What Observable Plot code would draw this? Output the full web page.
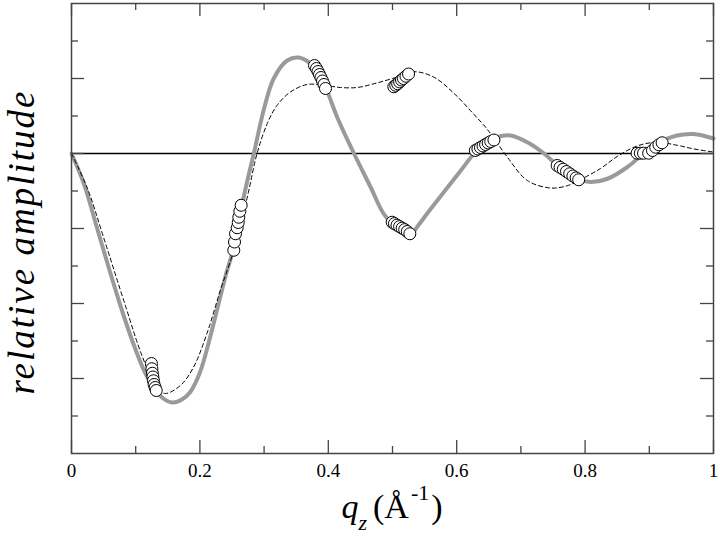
<!DOCTYPE html>
<html><head><meta charset="utf-8">
<script src="https://cdn.jsdelivr.net/npm/d3@7"></script>
<script src="https://cdn.jsdelivr.net/npm/@observablehq/plot@0.6"></script>
<style>body{margin:0;background:#fff}</style>
</head><body><div id="chart"></div>
<script>
// solid gray curve
const grayQ = [0,0.02,0.04,0.06,0.08,0.1,0.115,0.128,0.142,0.157,0.172,0.185,0.2,0.215,0.23,0.242,0.253,0.264,0.274,0.284,0.3,0.315,0.336,0.354,0.372,0.385,0.396,0.414,0.44,0.466,0.486,0.505,0.518,0.528,0.54,0.554,0.585,0.607,0.627,0.645,0.668,0.684,0.71,0.736,0.762,0.788,0.808,0.834,0.866,0.891,0.912,0.943,0.969,1.0];
const grayV = [0,-0.42,-1.0,-1.58,-2.13,-2.62,-2.93,-3.12,-3.26,-3.32,-3.28,-3.18,-2.92,-2.48,-1.97,-1.57,-1.25,-0.75,-0.36,0,0.6,1.0,1.24,1.28,1.2,1.06,0.88,0.48,0,-0.45,-0.8,-0.99,-1.06,-1.085,-0.96,-0.8,-0.46,-0.22,0,0.15,0.23,0.24,0.15,0,-0.2,-0.34,-0.38,-0.34,-0.18,0,0.13,0.24,0.26,0.2];
// dashed black curve
const dashQ = [0,0.025,0.05,0.084,0.11,0.133,0.146,0.17,0.19,0.211,0.232,0.253,0.264,0.276,0.289,0.305,0.32,0.341,0.367,0.393,0.419,0.445,0.471,0.5,0.533,0.564,0.596,0.627,0.642,0.655,0.679,0.71,0.746,0.772,0.79,0.824,0.85,0.881,0.912,0.943,0.97,1.0];
const dashV = [0,-0.47,-1.12,-2.03,-2.7,-3.13,-3.2,-3.09,-2.85,-2.4,-1.82,-1.29,-0.93,-0.5,0,0.4,0.64,0.82,0.92,0.91,0.88,0.88,0.93,1.0,1.09,1.02,0.8,0.52,0.38,0.24,-0.05,-0.36,-0.46,-0.43,-0.36,-0.2,-0.04,0.1,0.15,0.11,0.06,0.02];
// open circles
const dotQ = [
  0.1245,0.1252,0.126,0.1268,0.1277,0.1287,0.1303,0.132,
  0.2528,0.2539,0.2555,0.2581,0.2597,0.2606,0.2622,0.2643,
  0.3785,0.3816,0.384,0.3863,0.3886,0.391,0.3933,0.3956,
  0.502,0.505,0.508,0.511,0.514,0.517,0.521,0.525,
  0.4995,0.503,0.507,0.511,0.515,0.519,0.523,0.527,
  0.629,0.633,0.637,0.641,0.645,0.649,0.653,0.658,
  0.7565,0.761,0.766,0.771,0.776,0.781,0.786,0.790,
  0.881,0.886,0.891,0.899,0.905,0.910,0.915,0.920];
const dotV = [
  -2.80,-2.87,-2.93,-2.98,-3.03,-3.08,-3.12,-3.16,
  -1.29,-1.18,-1.07,-0.99,-0.92,-0.85,-0.77,-0.69,
  1.173,1.133,1.093,1.053,1.013,0.967,0.92,0.867,
  0.89,0.91,0.93,0.955,0.98,1.0,1.03,1.06,
  -0.916,-0.935,-0.955,-0.975,-0.995,-1.015,-1.04,-1.07,
  0.04,0.06,0.08,0.10,0.12,0.14,0.16,0.18,
  -0.16,-0.185,-0.21,-0.24,-0.27,-0.30,-0.325,-0.35,
  0.004,0.004,0.004,0.004,0.04,0.084,0.116,0.143];
// ticks
const xMajor = [0,0.2,0.4,0.6,0.8,1];
const xMinor = [0.1,0.3,0.5,0.7,0.9];
const yMajor = [-3,-2,-1,0,1];
const yMinor = [-3.5,-2.5,-1.5,-0.5,0.5,1.5];
const xDomain = [0,1], yDomain = [-4,2];

const gray = grayQ.map((q,i)=>({q, v:grayV[i]}));
const dash = dashQ.map((q,i)=>({q, v:dashV[i]}));
const dots = dotQ.map((q,i)=>({q, v:dotV[i]}));

const FONT = '"Liberation Serif","Times New Roman",Tinos,"DejaVu Serif","Noto Serif",serif';
const W=720,H=534,mT=3,mB=81,mL=71,mR=7;
const pxX = (W-mL-mR)/(xDomain[1]-xDomain[0]);
const pxY = (H-mT-mB)/(yDomain[1]-yDomain[0]);
const big=13, small=7, tc="#444";
const ticksX = (vals,len)=>[
  Plot.ruleX(vals,{x:d=>d,y1:yDomain[0],y2:yDomain[0]+len/pxY,stroke:tc,strokeWidth:1.3}),
  Plot.ruleX(vals,{x:d=>d,y1:yDomain[1],y2:yDomain[1]-len/pxY,stroke:tc,strokeWidth:1.3})];
const ticksY = (vals,len)=>[
  Plot.ruleY(vals,{y:d=>d,x1:xDomain[0],x2:xDomain[0]+len/pxX,stroke:tc,strokeWidth:1.3}),
  Plot.ruleY(vals,{y:d=>d,x1:xDomain[1],x2:xDomain[1]-len/pxX,stroke:tc,strokeWidth:1.3})];

const svg = Plot.plot({
  width:W, height:H, marginTop:mT, marginBottom:mB, marginLeft:mL, marginRight:mR,
  style:{fontFamily:FONT, background:"white", color:"black"},
  x:{domain:xDomain},
  y:{domain:yDomain, axis:null},
  marks:[
    Plot.ruleY([0],{stroke:"black",strokeWidth:1.4}),
    Plot.line(gray,{x:"q",y:"v",stroke:"#9a9a9a",strokeWidth:4,curve:"catmull-rom"}),
    Plot.line(dash,{x:"q",y:"v",stroke:"black",strokeWidth:1,strokeDasharray:"4,3",curve:"catmull-rom"}),
    Plot.dot(dots,{x:"q",y:"v",r:6,fill:"white",stroke:"black",strokeWidth:1}),
    ...ticksX(xMajor,big), ...ticksX(xMinor,small),
    ...ticksY(yMajor,big), ...ticksY(yMinor,small),
    Plot.frame({stroke:tc,strokeWidth:1.5}),
    Plot.axisX(xMajor,{anchor:"bottom",tickSize:0,tickPadding:10,fontSize:19,label:null,tickFormat:d=>String(d)})
  ]
});
document.getElementById("chart").appendChild(svg);

const xs = svg.scale("x");
const s = d3.select(svg);
const lab = s.append("text")
  .attr("x", xs.apply(0.5)).attr("y", 518)
  .attr("text-anchor","middle")
  .attr("font-family",FONT)
  .attr("font-size",34).attr("fill","black");
lab.append("tspan").attr("font-style","italic").text("q");
lab.append("tspan").attr("font-style","italic").attr("font-size",22).attr("dy",12).text("z");
lab.append("tspan").attr("dy",-12).attr("dx",6).text("(Å");
lab.append("tspan").attr("font-size",22).attr("dy",-18).attr("dx",2).text("-1");
lab.append("tspan").attr("dy",18).attr("dx",2).text(")");

s.append("text")
  .attr("transform","translate(34,242) rotate(-90)")
  .attr("text-anchor","middle")
  .attr("font-family",FONT)
  .attr("font-style","italic")
  .attr("font-size",37).attr("letter-spacing",2).attr("fill","black")
  .text("relative amplitude");
</script>
</body></html>
